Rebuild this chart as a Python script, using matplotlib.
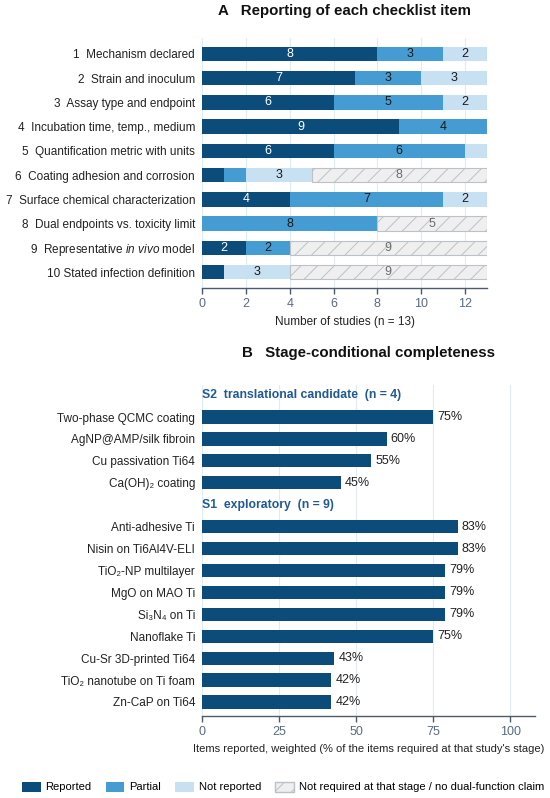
import matplotlib
matplotlib.use("Agg")
import matplotlib.pyplot as plt
from matplotlib.patches import Patch

plt.rcParams['font.family'] = ['Liberation Sans', 'DejaVu Sans']
plt.rcParams['mathtext.fontset'] = 'custom'
plt.rcParams['mathtext.rm'] = 'Liberation Sans'
plt.rcParams['mathtext.it'] = 'Liberation Sans:italic'
plt.rcParams['mathtext.default'] = 'regular'
plt.rcParams['hatch.linewidth'] = 0.7

# ---------------- data ----------------
items = ["1  Mechanism declared",
         "2  Strain and inoculum",
         "3  Assay type and endpoint",
         "4  Incubation time, temp., medium",
         "5  Quantification metric with units",
         "6  Coating adhesion and corrosion",
         "7  Surface chemical characterization",
         "8  Dual endpoints vs. toxicity limit",
         "9  Representative $\\it{in\\ vivo}$ model",
         "10 Stated infection definition"]
reported     = [8, 7, 6, 9, 6, 1, 4, 0, 2, 1]
partial      = [3, 3, 5, 4, 6, 1, 7, 8, 2, 0]
not_reported = [2, 3, 2, 0, 1, 3, 2, 0, 0, 3]
not_required = [0, 0, 0, 0, 0, 8, 0, 5, 9, 9]

s2_header = "S2  translational candidate  (n = 4)"
s2_names = ["Two-phase QCMC coating", "AgNP@AMP/silk fibroin",
            "Cu passivation Ti64", "Ca(OH)₂ coating"]
s2_pct = [75, 60, 55, 45]

s1_header = "S1  exploratory  (n = 9)"
s1_names = ["Anti-adhesive Ti", "Nisin on Ti6Al4V-ELI", "TiO₂-NP multilayer",
            "MgO on MAO Ti", "Si₃N₄ on Ti", "Nanoflake Ti",
            "Cu-Sr 3D-printed Ti64", "TiO₂ nanotube on Ti foam", "Zn-CaP on Ti64"]
s1_pct = [83, 83, 79, 79, 79, 75, 43, 42, 42]

# ---------------- style ----------------
c_rep = "#0b4c7a"
c_par = "#449cd2"
c_not = "#c7e0f2"
c_nreq = "#efefef"
c_nreq_edge = "#bcc1c7"
c_grid = "#e2eaf2"
c_spine = "#4d5a6e"
c_tick = "#5a6b84"
c_head = "#1f5a92"

fig = plt.figure(figsize=(5.5, 7.98), dpi=100)

# ---------------- panel A ----------------
axA = fig.add_axes([0.3673, 0.6391, 0.5182, 0.3133])
y = list(range(len(items)))
left = [0] * len(items)
segs = [(reported, c_rep, "white"), (partial, c_par, "#1a1a1a"),
        (not_reported, c_not, "#1a1a1a"), (not_required, c_nreq, "#6b6b6b")]
for k, (vals, col, tcol) in enumerate(segs):
    if k == 3:
        axA.barh(y, vals, left=left, height=0.6, color=col,
                 edgecolor=c_nreq_edge, linewidth=0.8, hatch="//", zorder=2)
    else:
        axA.barh(y, vals, left=left, height=0.6, color=col,
                 linewidth=0, zorder=2)
    for yi, l, v in zip(y, left, vals):
        if v >= 2:
            axA.text(l + v / 2, yi, str(v), ha="center", va="center",
                     fontsize=9, color=tcol, zorder=3)
    left = [a + b for a, b in zip(left, vals)]

axA.set_yticks(y)
axA.set_yticklabels(items, fontsize=8.5, color="#222222")
axA.set_ylim(9.66, -0.66)
axA.set_xlim(0, 13)
axA.set_xticks(range(0, 13, 2))
axA.set_xlabel("Number of studies (n = 13)", fontsize=8.5, color="#222222", labelpad=4)

# ---------------- panel B ----------------
axB = fig.add_axes([0.3673, 0.1028, 0.6055, 0.4147])
pos = 0
ticks_y, ticks_lab = [], []
for header, names, vals in [(s2_header, s2_names, s2_pct), (s1_header, s1_names, s1_pct)]:
    axB.text(0, pos, header, ha="left", va="center", fontsize=8.8,
             fontweight="bold", color=c_head)
    pos += 1
    for n, v in zip(names, vals):
        axB.barh(pos, v, height=0.6, color=c_rep, linewidth=0, zorder=2)
        axB.text(v + 1.3, pos, f"{v}%", ha="left", va="center",
                 fontsize=9, color="#222222")
        ticks_y.append(pos)
        ticks_lab.append(n)
        pos += 1

axB.set_yticks(ticks_y)
axB.set_yticklabels(ticks_lab, fontsize=8.5, color="#222222")
axB.set_ylim(pos - 1 + 0.64, -0.46)
axB.set_xlim(0, 108.1)
axB.set_xticks([0, 25, 50, 75, 100])
axB.set_xlabel("Items reported, weighted (% of the items required at that study's stage)",
               fontsize=8, color="#222222", labelpad=4)

for ax in (axA, axB):
    for s in ("top", "right", "left"):
        ax.spines[s].set_visible(False)
    ax.spines["bottom"].set_color(c_spine)
    ax.spines["bottom"].set_linewidth(1.0)
    ax.tick_params(axis="x", colors=c_spine, labelcolor=c_tick, labelsize=9,
                   length=4, width=1.0)
    ax.tick_params(axis="y", length=0, pad=5)
    ax.grid(axis="x", color=c_grid, linewidth=0.8, zorder=0)
    ax.set_axisbelow(True)

fig.text(344 / 550, 1 - 11 / 798, "A   Reporting of each checklist item",
         ha="center", va="center", fontsize=10.8, fontweight="bold", color="#111111")
fig.text(368 / 550, 1 - 353 / 798, "B   Stage-conditional completeness",
         ha="center", va="center", fontsize=10.8, fontweight="bold", color="#111111")

handles = [Patch(facecolor=c_rep, edgecolor="none", label="Reported"),
           Patch(facecolor=c_par, edgecolor="none", label="Partial"),
           Patch(facecolor=c_not, edgecolor="none", label="Not reported"),
           Patch(facecolor=c_nreq, edgecolor=c_nreq_edge, hatch="//",
                 label="Not required at that stage / no dual-function claim")]
fig.legend(handles=handles, loc="center", bbox_to_anchor=(283 / 550, 1 - 787 / 798),
           ncol=4, frameon=False, fontsize=8, handlelength=1.7, handleheight=1.0,
           handletextpad=0.45, columnspacing=1.25)

fig.savefig("out.png", dpi=100)
